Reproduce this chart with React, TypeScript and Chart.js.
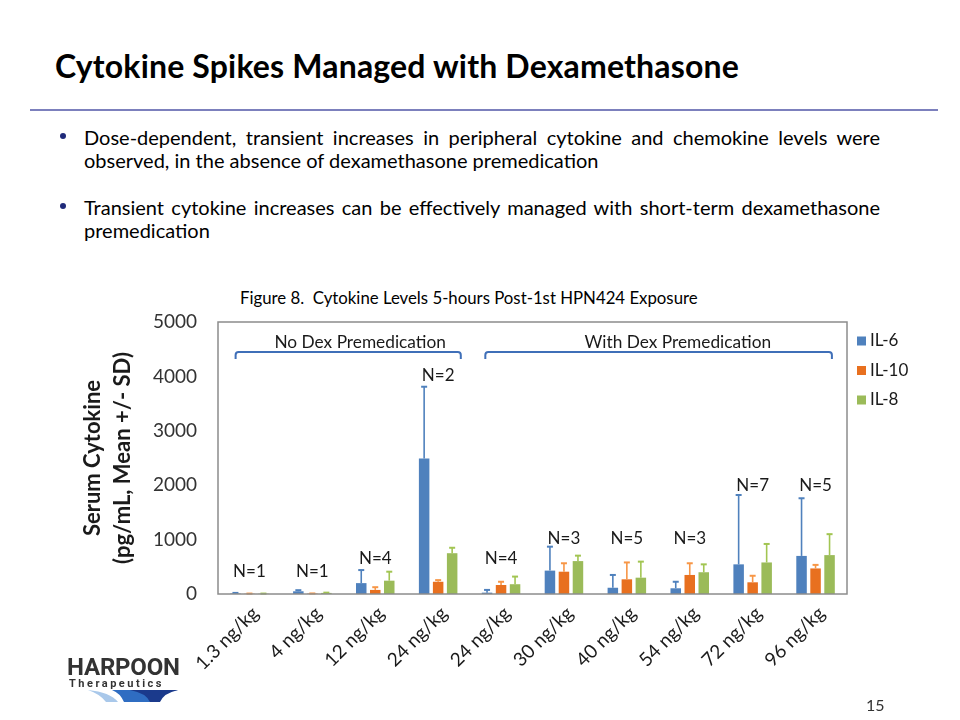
import React, { useEffect, useRef } from 'react';
import { Chart, registerables } from 'chart.js';

Chart.register(...registerables);

// ---------- data ----------
const categories = ['1.3 ng/kg', '4 ng/kg', '12 ng/kg', '24 ng/kg', '24 ng/kg', '30 ng/kg', '40 ng/kg', '54 ng/kg', '72 ng/kg', '96 ng/kg'];
const seriesNames = ['IL-6', 'IL-10', 'IL-8'];
const il6Mean = [10, 50, 200, 2490, 25, 430, 115, 105, 545, 700];
const il6Sd = [10, 20, 240, 1320, 50, 440, 235, 120, 1275, 1060];
const il10Mean = [5, 8, 75, 225, 165, 410, 270, 350, 215, 470];
const il10Sd = [3, 2, 50, 30, 60, 155, 310, 215, 120, 65];
const il8Mean = [5, 20, 245, 750, 180, 605, 300, 400, 580, 715];
const il8Sd = [3, 5, 165, 100, 140, 100, 295, 145, 340, 385];
const nLabels = ['N=1', 'N=1', 'N=4', 'N=2', 'N=4', 'N=3', 'N=5', 'N=3', 'N=7', 'N=5'];
const nLabelValues = [410, 410, 656, 4025, 656, 1024, 1024, 1024, 2003, 2003];
const groupLabels = ['No Dex Premedication', 'With Dex Premedication'];
const groupSpanStart = [-0.22, 3.75];
const groupSpanEnd = [3.36, 9.26];
const groupLabelAt = [1.76, 6.81];
const yTickValues = [0, 1000, 2000, 3000, 4000, 5000];

const barColors = ['#4F81BD', '#E8701F', '#9BBB59'];
const errColors = ['#4F81BD', '#F79646', '#A2C552'];
const means = [il6Mean, il10Mean, il8Mean];
const sds = [il6Sd, il10Sd, il8Sd];

const FONT = 'Lato, "Open Sans", sans-serif';
const CANVAS_TOP = 291;
const CANVAS_H = 720 - CANVAS_TOP;

const decorPlugin = {
  id: 'decor',
  afterDatasetsDraw(chart: any) {
    const ctx = chart.ctx;
    const x = chart.scales.x;
    const y = chart.scales.y;
    const area = chart.chartArea;
    ctx.save();
    // error bars (plus direction)
    chart.data.datasets.forEach((ds: any, i: number) => {
      const meta = chart.getDatasetMeta(i);
      ctx.strokeStyle = errColors[i];
      meta.data.forEach((bar: any, j: number) => {
        const top = y.getPixelForValue(means[i][j] + sds[i][j]);
        ctx.lineWidth = 1.6;
        ctx.beginPath();
        ctx.moveTo(bar.x, bar.y);
        ctx.lineTo(bar.x, top);
        ctx.stroke();
        ctx.lineWidth = 2;
        ctx.beginPath();
        ctx.moveTo(bar.x - 3, top);
        ctx.lineTo(bar.x + 3, top);
        ctx.stroke();
      });
    });
    // N labels
    ctx.fillStyle = '#1a1a1a';
    ctx.font = '17px ' + FONT;
    ctx.textAlign = 'center';
    ctx.textBaseline = 'middle';
    nLabels.forEach((t, i) => {
      ctx.fillText(t, x.getPixelForValue(i), y.getPixelForValue(nLabelValues[i]));
    });
    // group brackets
    const by = area.top + 30;
    ctx.strokeStyle = '#3F6FB8';
    ctx.lineWidth = 2;
    groupLabels.forEach((t, g) => {
      const x1 = x.getPixelForValue(groupSpanStart[g]);
      const x2 = x.getPixelForValue(groupSpanEnd[g]);
      ctx.beginPath();
      ctx.moveTo(x1, by + 7);
      ctx.arcTo(x1, by, x1 + 4, by, 3);
      ctx.lineTo(x2 - 4, by);
      ctx.arcTo(x2, by, x2, by + 7, 3);
      ctx.lineTo(x2, by + 7);
      ctx.stroke();
      ctx.fillStyle = '#1a1a1a';
      ctx.font = '17.3px ' + FONT;
      ctx.fillText(t, x.getPixelForValue(groupLabelAt[g]), area.top + 20);
    });
    ctx.restore();
  },
  afterDraw(chart: any) {
    const ctx = chart.ctx;
    const area = chart.chartArea;
    ctx.save();
    // plot box
    ctx.strokeStyle = '#8C8C8C';
    ctx.lineWidth = 1.5;
    ctx.strokeRect(area.left, area.top, area.right - area.left, area.bottom - area.top);
    // y title
    const cy = (area.top + area.bottom) / 2;
    ctx.fillStyle = '#1a1a1a';
    ctx.font = 'bold 22px ' + FONT;
    ctx.textAlign = 'center';
    ctx.textBaseline = 'middle';
    ctx.translate(0, cy);
    ctx.rotate(-Math.PI / 2);
    ctx.fillText('Serum Cytokine', 0, 93);
    ctx.fillText('(pg/mL, Mean +/- SD)', 0, 123);
    ctx.restore();
    // legend
    ctx.save();
    ctx.font = '17px ' + FONT;
    ctx.textAlign = 'left';
    ctx.textBaseline = 'middle';
    seriesNames.forEach((n, i) => {
      const ly = area.top + 19 + i * 29.5;
      ctx.fillStyle = barColors[i];
      ctx.fillRect(area.right + 10, ly - 4.5, 9, 9);
      ctx.fillStyle = '#1a1a1a';
      ctx.fillText(n, area.right + 23, ly);
    });
    ctx.restore();
  },
};

function CytokineChart() {
  const ref = useRef<HTMLCanvasElement | null>(null);
  useEffect(() => {
    if (!ref.current) return;
    const chart = new Chart(ref.current, {
      type: 'bar',
      data: {
        labels: categories,
        datasets: seriesNames.map((name, i) => ({
          label: name,
          data: means[i],
          backgroundColor: barColors[i],
          borderWidth: 0,
          categoryPercentage: 0.668,
          barPercentage: 0.75,
        })),
      },
      options: {
        responsive: false,
        animation: false,
        maintainAspectRatio: false,
        layout: { padding: { left: 0, right: 113, top: 0, bottom: 0 } },
        plugins: { legend: { display: false }, tooltip: { enabled: false } },
        scales: {
          x: {
            grid: { display: false, drawTicks: false },
            border: { display: false },
            ticks: {
              autoSkip: false,
              minRotation: 45,
              maxRotation: 45,
              padding: 8,
              labelOffset: 6,
              color: '#1a1a1a',
              font: { family: FONT, size: 19 },
            },
            afterFit(scale: any) { scale.height = 126; },
          },
          y: {
            min: 0,
            max: 5000,
            grid: { display: false, drawTicks: false },
            border: { display: false },
            afterBuildTicks(scale: any) { scale.ticks = yTickValues.map((v) => ({ value: v })); },
            ticks: {
              padding: 21,
              color: '#333333',
              font: { family: FONT, size: 19 },
              callback: (v: any) => String(v),
            },
            afterFit(scale: any) {
              scale.width = 218;
              scale.paddingTop = 31;
              scale.paddingBottom = 0;
            },
          },
        },
      },
      plugins: [decorPlugin],
    });
    return () => chart.destroy();
  }, []);
  return <canvas ref={ref} width={960} height={CANVAS_H} style={{ position: 'absolute', left: 0, top: CANVAS_TOP, width: 960, height: CANVAS_H }} />;
}

export default function App() {
  const txt: React.CSSProperties = { position: 'absolute', fontFamily: FONT, color: '#000', whiteSpace: 'nowrap' };
  const line: React.CSSProperties = { ...txt, left: 84, width: 796, fontSize: 20, lineHeight: '23px' };
  const just: React.CSSProperties = { textAlign: 'justify', textAlignLast: 'justify' } as any;
  return (
    <div style={{ position: 'absolute', left: 0, top: 0, width: 960, height: 720, background: '#fff', overflow: 'hidden' }}>
      <div style={{ ...txt, left: 55, top: 46, fontSize: 32, fontWeight: 700, lineHeight: '40px', letterSpacing: 0.17 }}>
        Cytokine Spikes Managed with Dexamethasone
      </div>
      <div style={{ position: 'absolute', left: 30, top: 109, width: 908, height: 2, background: '#7C80BD' }} />
      <div style={{ position: 'absolute', left: 60, top: 133, width: 6, height: 6, borderRadius: 3, background: '#1F2A7A' }} />
      <div style={{ ...line, ...just, top: 126 }}>Dose-dependent, transient increases in peripheral cytokine and chemokine levels were</div>
      <div style={{ ...line, top: 149 }}>observed, in the absence of dexamethasone premedication</div>
      <div style={{ position: 'absolute', left: 60, top: 203, width: 6, height: 6, borderRadius: 3, background: '#1F2A7A' }} />
      <div style={{ ...line, ...just, top: 196 }}>Transient cytokine increases can be effectively managed with short-term dexamethasone</div>
      <div style={{ ...line, top: 219 }}>premedication</div>
      <div style={{ ...txt, left: 240, top: 287, fontSize: 16.8, lineHeight: '21px' }}>
        Figure 8.&nbsp; Cytokine Levels 5-hours Post-1st HPN424 Exposure
      </div>
      <CytokineChart />
      <div style={{ ...txt, left: 67, top: 654, fontSize: 24, fontWeight: 700, lineHeight: '26px', color: '#333', fontFamily: 'Roboto, sans-serif', letterSpacing: -0.2 }}>
        HARPOON
      </div>
      <div style={{ ...txt, left: 69, top: 678, fontSize: 11, fontWeight: 700, lineHeight: '12px', color: '#333', fontFamily: 'Roboto, sans-serif', letterSpacing: 2.5 }}>
        Therapeutics
      </div>
      <svg style={{ position: 'absolute', left: 60, top: 688 }} width={130} height={16}>
        <path d="M28 2 Q50 4 58 14 L46 14 Q40 6 28 2 Z" fill="#A9C8EA" />
        <path d="M52 2 L118 2 Q100 4 94 14 L64 14 Q60 5 52 2 Z" fill="#2F6DC2" />
        <path d="M70 2 L118 2 Q104 5 100 14 L90 14 Q86 5 70 2 Z" fill="#1B3A8C" />
      </svg>
      <div style={{ ...txt, left: 866, top: 695, fontSize: 16, lineHeight: '20px', color: '#333' }}>15</div>
    </div>
  );
}
